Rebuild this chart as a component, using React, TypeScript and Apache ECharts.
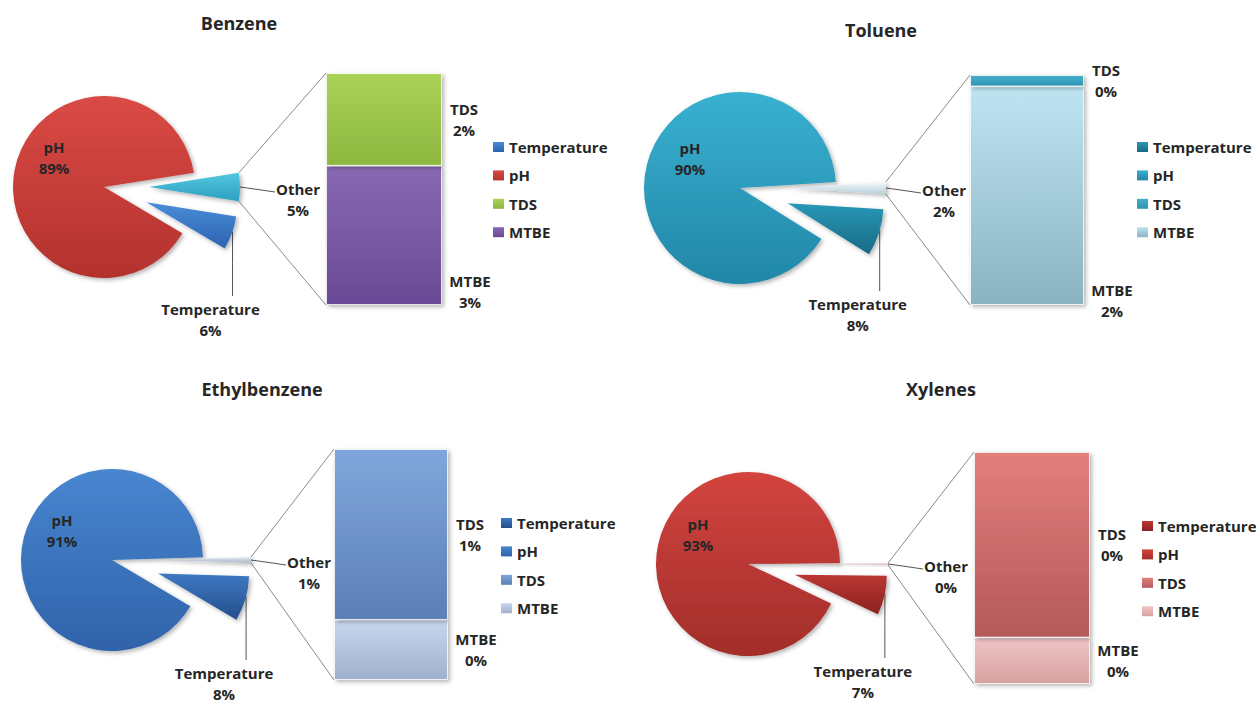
import React, { useEffect, useRef } from 'react';
import * as echarts from 'echarts';

// ---------- data ----------
const TITLES = ['Benzene', 'Toluene', 'Ethylbenzene', 'Xylenes'];
const PIE_CATEGORIES = ['Other', 'Temperature', 'pH'];
const LEGEND_ITEMS = ['Temperature', 'pH', 'TDS', 'MTBE'];
const PH_VALUES = [89, 90.1, 91, 92.8];
const TEMPERATURE_VALUES = [6, 7.9, 8, 6.9];
const TDS_VALUES = [2, 0.1, 0.74, 0.24];
const MTBE_VALUES = [3, 1.9, 0.26, 0.06];

// ---------- layout (panel-local pixels) ----------
const LAYOUTS = [
  { title: [239, 23], center: [104, 187], r: 91, off: 45, grid: { left: 326, top: 73, width: 116, height: 232 }, legend: [493, 138], tempLabelY: 319, mtbeDy: 56 },
  { title: [253, 30], center: [112, 188], r: 96, off: 50, grid: { left: 342, top: 75, width: 114, height: 230 }, legend: [509, 138], tempLabelY: 314, mtbeDy: 105 },
  { title: [262, 37], center: [112, 208], r: 91, off: 48, grid: { left: 334, top: 97, width: 114, height: 231 }, legend: [501, 162], tempLabelY: 331, mtbeDy: 0 },
  { title: [313, 37], center: [120, 212], r: 92, off: 48, grid: { left: 346, top: 100, width: 116, height: 232 }, legend: [514, 165], tempLabelY: 329, mtbeDy: 0 },
];

const PALETTES = [
  { pH: ['#DA4A45', '#B3322E'], Temperature: ['#4A8CD8', '#2C63B0'], Other: ['#52C7E1', '#2E9FBF'], TDS: ['#AAD259', '#8DB73F'], MTBE: ['#8868B3', '#6A4A96'] },
  { pH: ['#39B1D1', '#2287A8'], Temperature: ['#2A97B7', '#176A84'], Other: ['#F4F9FB', '#B7D0DA'], TDS: ['#46B0CD', '#2E94B2'], MTBE: ['#BFE4F1', '#8AB3C2'] },
  { pH: ['#4886D0', '#2F63AA'], Temperature: ['#3F79C3', '#234E8B'], Other: ['#E3E9F1', '#A8B5C8'], TDS: ['#80A7DB', '#5B7FB6'], MTBE: ['#C8D7EF', '#9FB0CD'] },
  { pH: ['#D3443F', '#A22D2A'], Temperature: ['#BB3633', '#8B2220'], Other: ['#F2DEDE', '#C9A2A2'], TDS: ['#E37F7D', '#B55959'], MTBE: ['#EFC6C6', '#D8A0A0'] },
];

const FONT = '"Open Sans", "DejaVu Sans", sans-serif';
const TEXT_COLOR = '#262626';
const LINE_COLOR = '#555555';
const CONNECTOR_COLOR = '#8a8a8a';

const rad = (d: number) => (d * Math.PI) / 180;
const pt = (cx: number, cy: number, r: number, deg: number): [number, number] => [
  cx + r * Math.cos(rad(deg)),
  cy - r * Math.sin(rad(deg)),
];
const grad = (c: string[]) =>
  new echarts.graphic.LinearGradient(0, 0, 0, 1, [
    { offset: 0, color: c[0] },
    { offset: 1, color: c[1] },
  ]);

const labelText = {
  fontFamily: FONT,
  fontWeight: 'bold' as const,
  fontSize: 15,
  lineHeight: 21,
  color: TEXT_COLOR,
  textBorderWidth: 0,
};

const shadow = {
  shadowBlur: 4,
  shadowOffsetX: 2,
  shadowOffsetY: 2,
  shadowColor: 'rgba(0,0,0,0.3)',
};

function buildOption(i: number) {
  const L = LAYOUTS[i];
  const pal: any = PALETTES[i];
  const tds = TDS_VALUES[i];
  const mtbe = MTBE_VALUES[i];
  const other = mtbe + tds;
  const temp = TEMPERATURE_VALUES[i];
  const ph = PH_VALUES[i];
  const valueOf: any = { Other: other, Temperature: temp, pH: ph };
  const total = other + temp + ph;

  const [cx, cy] = L.center;
  const r = L.r;
  const otherDeg = (other / total) * 360;
  const tempDeg = (temp / total) * 360;
  const startAngle = otherDeg / 2;
  const tempStart = -otherDeg / 2;
  const tempMid = tempStart - tempDeg / 2;

  const centers: any = {
    pH: [cx, cy],
    Other: pt(cx, cy, L.off, 0),
    Temperature: pt(cx, cy, L.off, tempMid),
  };

  const otherC = centers.Other;
  const tipX = otherC[0] + r;
  const tempC = centers.Temperature;
  const tempAnchor = pt(tempC[0], tempC[1], r, tempStart - 0.45 * tempDeg);
  const tempLineEnd = L.tempLabelY - 23;

  const layouts: any = {
    pH: () => ({ x: cx - 50, y: cy - 30, align: 'center', verticalAlign: 'middle' }),
    Other: () => ({
      x: tipX + 58,
      y: cy + 12,
      align: 'center',
      verticalAlign: 'middle',
      labelLinePoints: [
        [tipX, cy],
        [tipX + 18, cy + 2.5],
        [tipX + 35, cy + 5],
      ],
    }),
    Temperature: () => ({
      x: tempAnchor[0] - 22,
      y: L.tempLabelY,
      align: 'center',
      verticalAlign: 'middle',
      labelLinePoints: [
        tempAnchor,
        [tempAnchor[0], (tempAnchor[1] + tempLineEnd) / 2],
        [tempAnchor[0], tempLineEnd],
      ],
    }),
  };

  const pieSeries = (owner: string) => ({
    type: 'pie',
    name: owner,
    center: centers[owner],
    radius: r,
    startAngle,
    clockwise: true,
    avoidLabelOverlap: false,
    silent: true,
    emphasis: { disabled: true },
    label: { show: false },
    labelLine: { show: false },
    itemStyle: { borderWidth: 0 },
    labelLayout: layouts[owner],
    data: PIE_CATEGORIES.map((name) => {
      if (name !== owner) {
        return {
          name,
          value: valueOf[name],
          itemStyle: { opacity: 0 },
          label: { show: false },
          labelLine: { show: false },
        };
      }
      return {
        name,
        value: valueOf[name],
        itemStyle: { color: grad(pal[name]), borderWidth: 0, ...shadow },
        label: {
          show: true,
          position: name === 'pH' ? 'inside' : 'outside',
          formatter: (p: any) => `${p.name}\n${Math.round(p.value)}%`,
          ...labelText,
        },
        labelLine: {
          show: name !== 'pH',
          lineStyle: { color: LINE_COLOR, width: 1 },
        },
      };
    }),
  });

  const barSeries = (name: string, v: number, offset: number[]) => ({
    type: 'bar',
    name,
    stack: 'other',
    barWidth: '100%',
    silent: true,
    data: [v],
    itemStyle: {
      color: grad(pal[name]),
      borderColor: 'rgba(255,255,255,0.75)',
      borderWidth: 1,
      ...shadow,
    },
    label: {
      show: true,
      position: 'right',
      distance: 0,
      align: 'center',
      offset,
      formatter: (p: any) => `${p.seriesName}\n${Math.round(p.value)}%`,
      ...labelText,
    },
  });

  const topCorner = pt(otherC[0], otherC[1], r, otherDeg / 2);
  const bottomCorner = pt(otherC[0], otherC[1], r, -otherDeg / 2);
  const g = L.grid;

  return {
    animation: false,
    backgroundColor: '#ffffff',
    textStyle: { fontFamily: FONT },
    grid: { left: g.left, top: g.top, width: g.width, height: g.height },
    xAxis: { type: 'category', data: ['Other'], show: false },
    yAxis: { type: 'value', min: 0, max: other, show: false },
    legend: {
      orient: 'vertical',
      left: L.legend[0],
      top: L.legend[1],
      padding: 0,
      itemWidth: 11,
      itemHeight: 10,
      itemGap: 10.4,
      icon: 'rect',
      selectedMode: false,
      textStyle: {
        fontFamily: FONT,
        fontWeight: 'bold',
        fontSize: 15,
        lineHeight: 18,
        color: TEXT_COLOR,
      },
      data: LEGEND_ITEMS.map((n) => ({
        name: n,
        itemStyle: { color: grad(pal[n]), borderWidth: 0 },
      })),
    },
    graphic: [
      {
        type: 'text',
        x: L.title[0],
        y: L.title[1],
        style: {
          text: TITLES[i],
          fill: TEXT_COLOR,
          font: `bold 18px ${FONT}`,
          align: 'center',
          verticalAlign: 'middle',
          textAlign: 'center',
          textVerticalAlign: 'middle',
        },
      },
      {
        type: 'line',
        shape: { x1: topCorner[0], y1: topCorner[1], x2: g.left, y2: g.top },
        style: { stroke: CONNECTOR_COLOR, lineWidth: 1 },
      },
      {
        type: 'line',
        shape: { x1: bottomCorner[0], y1: bottomCorner[1], x2: g.left, y2: g.top + g.height },
        style: { stroke: CONNECTOR_COLOR, lineWidth: 1 },
      },
    ],
    series: [
      pieSeries('pH'),
      pieSeries('Temperature'),
      pieSeries('Other'),
      barSeries('MTBE', mtbe, [28, L.mtbeDy]),
      barSeries('TDS', tds, [22, 0]),
    ],
  };
}

function Panel({ index }: { index: number }) {
  const ref = useRef<HTMLDivElement>(null);
  useEffect(() => {
    if (!ref.current) return;
    const chart = echarts.init(ref.current, null, { renderer: 'svg' });
    chart.setOption(buildOption(index) as any);
    return () => chart.dispose();
  }, [index]);
  const left = (index % 2) * 628;
  const top = Math.floor(index / 2) * 352;
  return (
    <div
      ref={ref}
      style={{ position: 'absolute', left, top, width: 628, height: 352 }}
    />
  );
}

export default function App() {
  return (
    <div
      style={{
        position: 'absolute',
        left: 0,
        top: 0,
        width: 1256,
        height: 704,
        background: '#ffffff',
        overflow: 'hidden',
      }}
    >
      {[0, 1, 2, 3].map((i) => (
        <Panel key={i} index={i} />
      ))}
    </div>
  );
}
